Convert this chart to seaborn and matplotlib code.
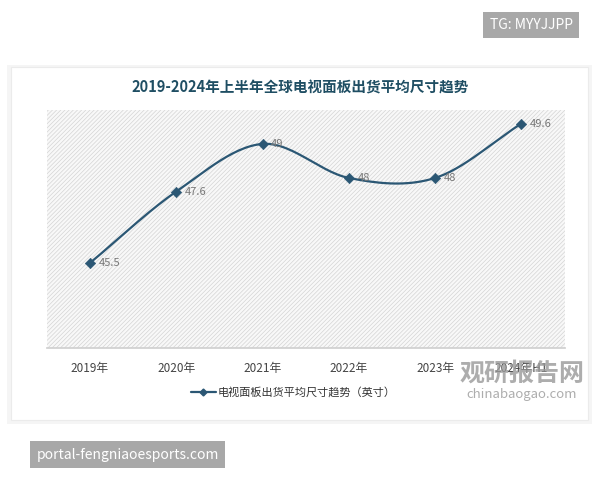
import numpy as np
import pandas as pd
import matplotlib
matplotlib.use('Agg')
import matplotlib.pyplot as plt
from matplotlib.patches import Rectangle
import seaborn as sns

# Data
years = ['2019年', '2020年', '2021年', '2022年', '2023年', '2024年H1']
sizes = [45.5, 47.6, 49, 48, 48, 49.6]
labels = ['45.5', '47.6', '49', '48', '48', '49.6']
series_name = '电视面板出货平均尺寸趋势（英寸）'
title = '2019-2024年上半年全球电视面板出货平均尺寸趋势'

sns.set_theme(style='white')
plt.rcParams['font.family'] = ['Noto Sans CJK SC', 'DejaVu Sans']
plt.rcParams['hatch.color'] = '#d4d4d4'
plt.rcParams['hatch.linewidth'] = 0.5
line_color = '#2b5774'

df = pd.DataFrame({'x': np.arange(len(years)), 'y': sizes})

fig = plt.figure(figsize=(6, 4.8), dpi=100)
fig.patch.set_facecolor('white')

# card with soft shadow, drawn in a background axes
bg = fig.add_axes([0, 0, 1, 1], zorder=-1)
bg.set_axis_off()
bg.set_xlim(0, 1)
bg.set_ylim(0, 1)
bg.add_patch(Rectangle((0.012, 0.117), 0.974, 0.748, facecolor='#f5f5f5', edgecolor='none'))
bg.add_patch(Rectangle((0.018, 0.125), 0.962, 0.735, facecolor='white', edgecolor='#ebebeb', lw=0.8))

ax = fig.add_axes([0.078, 0.275, 0.863, 0.496])
ax.set_facecolor('none')
ax.add_patch(Rectangle((0, 0), 1, 1, transform=ax.transAxes, facecolor='#f8f8f8',
                       edgecolor='#d4d4d4', hatch='////////', lw=0, zorder=0))

# smooth curve (Catmull-Rom through the data points)
x = df['x'].values.astype(float)
y = df['y'].values
xs, ys = [], []
px = np.concatenate([[2 * x[0] - x[1]], x, [2 * x[-1] - x[-2]]])
py = np.concatenate([[2 * y[0] - y[1]], y, [2 * y[-1] - y[-2]]])
for i in range(1, len(px) - 2):
    t = np.linspace(0, 1, 30)
    for arr, out in ((px, xs), (py, ys)):
        p0, p1, p2, p3 = arr[i - 1:i + 3]
        out.extend(0.5 * (2 * p1 + (-p0 + p2) * t + (2 * p0 - 5 * p1 + 4 * p2 - p3) * t ** 2
                          + (-p0 + 3 * p1 - 3 * p2 + p3) * t ** 3))
ax.plot(xs, ys, color=line_color, lw=1.6, zorder=3)
sns.scatterplot(data=df, x='x', y='y', marker='D', s=28, color=line_color, edgecolor=line_color,
                ax=ax, zorder=4, legend=False)
for xi, yi, lab in zip(x, y, labels):
    ax.text(xi + 0.1, yi, lab, color='#777777', fontsize=8, va='center', ha='left', zorder=5)

ax.set_xlim(-0.5, 5.5)
ax.set_ylim(43, 50)
ax.set_xticks(x)
ax.set_xticklabels(years, fontsize=8.5, color='#444444')
ax.set_yticks([])
ax.set_xlabel('')
ax.set_ylabel('')
ax.tick_params(axis='x', length=0, pad=10)
for s in ['top', 'left', 'right']:
    ax.spines[s].set_visible(False)
ax.spines['bottom'].set_color('#d0d0d0')

fig.text(0.5, 0.818, title, ha='center', va='center', fontsize=10.5, fontweight='bold', color='#1f4e63')

# legend
bg.plot([0.318, 0.36], [0.183, 0.183], color=line_color, lw=1.6)
bg.plot([0.339], [0.183], marker='D', ms=3.5, color=line_color)
fig.text(0.362, 0.183, series_name, ha='left', va='center', fontsize=8, color='#333333')

# watermarks
fig.text(0.885, 0.948, 'TG: MYYJJPP', ha='center', va='center', fontsize=10, color='white',
         bbox=dict(boxstyle='square,pad=0.45', facecolor='#a8a8a8', edgecolor='none'))
fig.text(0.213, 0.053, 'portal-fengniaoesports.com', ha='center', va='center', fontsize=10, color='white',
         bbox=dict(boxstyle='square,pad=0.45', facecolor='#a8a8a8', edgecolor='none'))
fig.text(0.87, 0.222, '观研报告网', ha='center', va='center', fontsize=18, fontweight='bold', color='#999999', alpha=0.8)
fig.text(0.87, 0.178, 'chinabaogao.com', ha='center', va='center', fontsize=9.5, color='#999999', alpha=0.8)

fig.savefig('out.png', dpi=100)
